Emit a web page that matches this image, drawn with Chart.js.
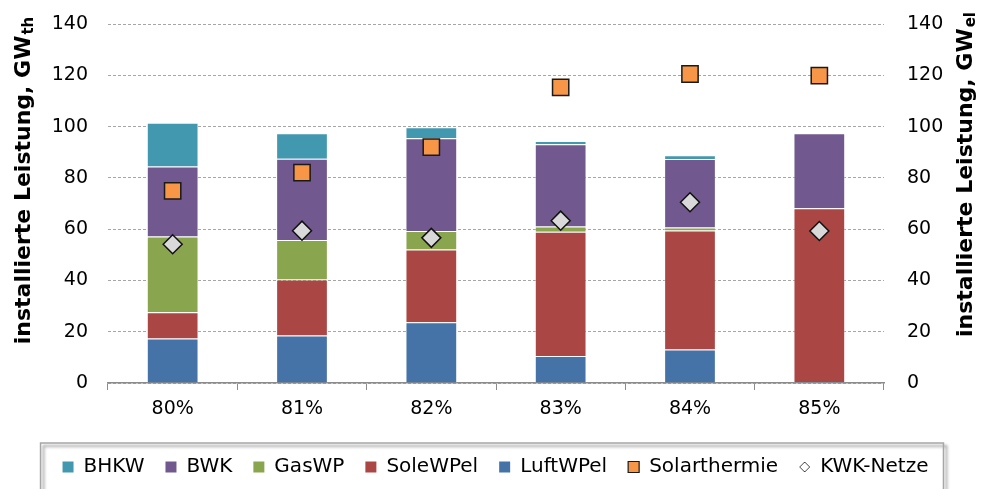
<!DOCTYPE html>
<html>
<head>
<meta charset="utf-8">
<script src="https://cdn.jsdelivr.net/npm/chart.js@4.4.1/dist/chart.umd.min.js"></script>
<style>
  html, body { margin: 0; padding: 0; background: #fff; }
</style>
</head>
<body>
<canvas id="myChart" width="981" height="489"></canvas>
<script>
// values
const categories = ['80%', '81%', '82%', '83%', '84%', '85%']
const luftWPel = [17.4, 18.5, 23.7, 10.5, 13.1, 0.4]
const soleWPel = [10.2, 21.9, 28.4, 48.5, 46.4, 67.7]
const gasWP = [29.5, 15.4, 7.2, 2.0, 1.1, 0]
const bwk = [27.3, 31.7, 36.1, 32.1, 26.8, 29.3]
const bhkw = [17.1, 9.9, 4.3, 1.3, 1.4, 0]
const solarthermie = [74.9, 82.0, 92.0, 115.3, 120.5, 119.9]
const kwkNetze = [54.1, 59.4, 56.6, 63.3, 70.5, 59.3]
const yTicks = [0, 20, 40, 60, 80, 100, 120, 140]
const legendOrder = ['BHKW', 'BWK', 'GasWP', 'SoleWPel', 'LuftWPel', 'Solarthermie', 'KWK-Netze']

const FONT = '"DejaVu Sans", sans-serif'

// little diamond for the legend
const diamond = document.createElement('canvas')
diamond.width = 12
diamond.height = 12
{
  const c = diamond.getContext('2d')
  c.beginPath()
  c.moveTo(6, 1); c.lineTo(11, 6); c.lineTo(6, 11); c.lineTo(1, 6); c.closePath()
  c.fillStyle = '#fff'
  c.fill()
  c.strokeStyle = '#444'
  c.lineWidth = 1
  c.stroke()
}

function barSet(label, data, color) {
  return {
    type: 'bar',
    label: label,
    data: data,
    backgroundColor: color,
    borderColor: 'rgba(255,255,255,0.35)',
    borderWidth: 1,
    categoryPercentage: 1,
    barPercentage: 0.4,
    pointStyle: 'rect',
    yAxisID: 'y'
  }
}

function drawTitle(ctx, x, y, sub) {
  ctx.save()
  ctx.translate(x, y)
  ctx.rotate(-Math.PI / 2)
  ctx.fillStyle = '#000'
  ctx.textBaseline = 'middle'
  ctx.textAlign = 'left'
  const main = 'installierte Leistung, GW'
  ctx.font = 'bold 22px ' + FONT
  const w1 = ctx.measureText(main).width
  ctx.font = 'bold 15px ' + FONT
  const w2 = ctx.measureText(sub).width
  const start = -(w1 + w2) / 2
  ctx.font = 'bold 22px ' + FONT
  ctx.fillText(main, start, 0)
  ctx.font = 'bold 15px ' + FONT
  ctx.fillText(sub, start + w1 + 1, 5)
  ctx.restore()
}

const axisTitles = {
  id: 'axisTitles',
  afterDraw(chart) {
    const a = chart.chartArea
    drawTitle(chart.ctx, a.left - 84, a.top + 157, 'th')
    drawTitle(chart.ctx, a.right + 82, a.top + 151, 'el')
  }
}

const legendFrame = {
  id: 'legendFrame',
  afterDraw(chart) {
    const boxes = chart.legend.legendHitBoxes
    if (!boxes || !boxes.length) return
    const left = Math.min(...boxes.map(b => b.left)) - 22
    const right = Math.max(...boxes.map(b => b.left + b.width)) + 15
    const top = boxes[0].top - 14
    const ctx = chart.ctx
    ctx.save()
    ctx.shadowColor = 'rgba(0,0,0,0.45)'
    ctx.shadowBlur = 3
    ctx.shadowOffsetX = 3
    ctx.shadowOffsetY = 3
    ctx.strokeStyle = '#A6A6A6'
    ctx.lineWidth = 1.5
    ctx.strokeRect(left, top, right - left, 120)
    ctx.restore()
  }
}

// y axes: fixed width, no extra label padding above/below
function fitY(width) {
  return s => {
    s.width = width
    s.paddingTop = 0
    s.paddingBottom = 0
  }
}

const ctx = document.getElementById('myChart').getContext('2d')
const chart = new Chart(ctx, {
  data: {
    labels: categories,
    datasets: [
      barSet('LuftWPel', luftWPel, '#4572A7'),
      barSet('SoleWPel', soleWPel, '#AA4643'),
      barSet('GasWP', gasWP, '#89A54E'),
      barSet('BWK', bwk, '#71588F'),
      barSet('BHKW', bhkw, '#4198AF'),
      {
        type: 'line',
        label: 'Solarthermie',
        data: solarthermie,
        showLine: false,
        stack: 'solar',
        pointStyle: 'rect',
        pointRadius: 11.5,
        pointHoverRadius: 11.5,
        backgroundColor: '#F79646',
        borderColor: '#1a1a1a',
        borderWidth: 1.5,
        yAxisID: 'y',
        order: -1
      },
      {
        type: 'line',
        label: 'KWK-Netze',
        data: kwkNetze,
        showLine: false,
        pointStyle: 'rectRot',
        pointRadius: 9.5,
        pointHoverRadius: 9.5,
        backgroundColor: '#D9D9D9',
        borderColor: '#111',
        borderWidth: 1.5,
        yAxisID: 'y2',
        order: -2
      }
    ]
  },
  options: {
    responsive: false,
    animation: false,
    devicePixelRatio: 1,
    layout: { padding: { top: 24, bottom: 2, left: 10 } },
    scales: {
      x: {
        stacked: true,
        grid: { offset: true, drawOnChartArea: false, tickLength: 7, color: '#8C8C8C' },
        border: { color: '#8C8C8C', width: 1.5 },
        ticks: { color: '#000', font: { family: FONT, size: 19 }, padding: 8 },
        afterFit: s => { s.height = 53 }
      },
      y: {
        stacked: true,
        position: 'left',
        min: 0,
        max: 140,
        afterBuildTicks: s => { s.ticks = yTicks.map(v => ({ value: v })) },
        grid: { color: '#A6A6A6', drawTicks: false, lineWidth: 1 },
        border: { display: false, dash: [3, 2] },
        ticks: { color: '#000', font: { family: FONT, size: 19 }, padding: 20 },
        afterFit: fitY(98)
      },
      y2: {
        position: 'right',
        min: 0,
        max: 140,
        afterBuildTicks: s => { s.ticks = yTicks.map(v => ({ value: v })) },
        grid: { drawOnChartArea: false, drawTicks: false },
        border: { display: false },
        ticks: { color: '#000', font: { family: FONT, size: 19 }, padding: 23 },
        afterFit: fitY(97)
      }
    },
    plugins: {
      tooltip: { enabled: false },
      legend: {
        position: 'bottom',
        labels: {
          color: '#000',
          font: { family: FONT, size: 20 },
          usePointStyle: true,
          boxHeight: 11,
          pointStyleWidth: 11,
          padding: 21,
          sort: (a, b) => legendOrder.indexOf(a.text) - legendOrder.indexOf(b.text),
          generateLabels: c => {
            const items = Chart.defaults.plugins.legend.labels.generateLabels(c)
            items.forEach(it => {
              const ds = c.data.datasets[it.datasetIndex]
              if (ds.type === 'bar') {
                it.strokeStyle = it.fillStyle
                it.lineWidth = 0
              } else if (ds.label === 'KWK-Netze') {
                it.pointStyle = diamond
              } else {
                it.lineWidth = 1.2
              }
            })
            return items
          }
        }
      }
    }
  },
  plugins: [axisTitles, legendFrame]
})
</script>
</body>
</html>
